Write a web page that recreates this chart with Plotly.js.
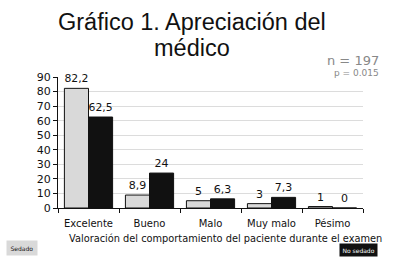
<!DOCTYPE html>
<html><head><meta charset="utf-8">
<script src="https://cdn.plot.ly/plotly-3.0.1.min.js"></script>
<style>html,body{margin:0;padding:0;background:#fff}#c{width:393px;height:267px}</style>
</head><body><div id="c"></div>
<script>
const categories = ["Excelente", "Bueno", "Malo", "Muy malo", "Pésimo"];
const sedado = [82.2, 8.9, 5, 3, 1];
const noSedado = [62.5, 24, 6.3, 7.3, 0];
const yTicks = [0, 10, 20, 30, 40, 50, 60, 70, 80, 90];
const fmt = v => String(v).replace('.', ',');

const font = "DejaVu Sans, Verdana, sans-serif";
const tfont = 'Liberation Sans, Arial, sans-serif';
const traces = [
  {type:'bar', name:'Sedado', x:categories, y:sedado, text:sedado.map(fmt),
   textposition:'outside', cliponaxis:false,
   textfont:{family:font, size:11, color:'#111'},
   marker:{color:'#d9d9d9', line:{color:'#111', width:1}}},
  {type:'bar', name:'No sedado', x:categories, y:noSedado, text:noSedado.map(fmt),
   textposition:'outside', cliponaxis:false,
   textfont:{family:font, size:11, color:'#111'},
   marker:{color:'#111', line:{color:'#111', width:1}}}
];
const layout = {
  width:393, height:267, margin:{l:58, r:30, t:77, b:59},
  paper_bgcolor:'#fff', plot_bgcolor:'#fff', showlegend:false,
  barmode:'group', bargap:0.21, bargroupgap:0,
  font:{family:font, color:'#111'},
  xaxis:{type:'category', tickson:'boundaries', ticks:'outside', ticklen:4, tickcolor:'#111',
    showline:true, linecolor:'#111', linewidth:1, showgrid:false, ticklabelstandoff:6,
    tickfont:{family:font, size:10, color:'#111'}},
  yaxis:{range:[0,90], tickvals:yTicks, ticks:'outside', ticklen:4, tickcolor:'#111',
    showline:true, linecolor:'#111', linewidth:1, gridcolor:'#dcdcdc', zeroline:false,
    tickfont:{family:font, size:11, color:'#111'}},
  annotations:[
    {text:'Gráfico 1. Apreciación del', xref:'paper', yref:'paper', x:0.44, y:1.0, yshift:55,
     xanchor:'center', yanchor:'middle', showarrow:false,
     font:{family:tfont, size:23.5, color:'#111'}},
    {text:'médico', xref:'paper', yref:'paper', x:0.44, y:1.0, yshift:29,
     xanchor:'center', yanchor:'middle', showarrow:false,
     font:{family:tfont, size:23.5, color:'#111'}},
    {text:'n = 197', xref:'paper', yref:'paper', x:1.06, y:1, yshift:17, xanchor:'right', yanchor:'middle',
     showarrow:false, font:{family:font, size:13, color:'#888'}},
    {text:'p = 0.015', xref:'paper', yref:'paper', x:1.06, y:1, yshift:4, xanchor:'right', yanchor:'middle',
     showarrow:false, font:{family:font, size:9, color:'#888'}},
    {text:'Valoración del comportamiento del paciente durante el examen', xref:'paper', yref:'paper',
     x:0.55, y:0, yshift:-30, xanchor:'center', yanchor:'middle', showarrow:false,
     font:{family:font, size:9.8, color:'#111'}},
    {text:'Sedado', xref:'paper', yref:'paper', x:-0.17, y:0, yshift:-40, xanchor:'left', yanchor:'middle',
     showarrow:false, bgcolor:'#d9d9d9', borderpad:3.5, font:{family:font, size:6, color:'#111'}},
    {text:'No sedado', xref:'paper', yref:'paper', x:1.05, y:0, yshift:-42, xanchor:'right', yanchor:'middle',
     showarrow:false, bgcolor:'#111', borderpad:2.5, font:{family:font, size:6, color:'#fff'}}
  ]
};
Plotly.newPlot('c', traces, layout, {staticPlot:true, displayModeBar:false});
</script></body></html>
